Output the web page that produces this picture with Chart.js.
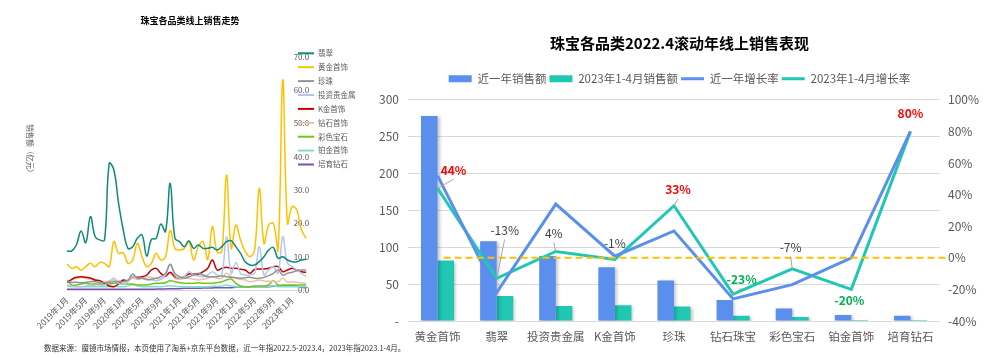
<!DOCTYPE html>
<html><head><meta charset="utf-8">
<script src="https://cdn.jsdelivr.net/npm/chart.js@4/dist/chart.umd.min.js"></script>
<style>
html,body{margin:0;padding:0;background:#fff;width:1000px;height:357px;overflow:hidden;position:relative;}
#c1{position:absolute;left:0;top:0;width:360px;height:357px;}
#c2{position:absolute;left:350px;top:0;width:650px;height:357px;}
#foot{position:absolute;left:44px;top:342px;font-size:7.5px;line-height:11px;font-family:"Noto Sans CJK SC",sans-serif;color:#333;white-space:nowrap;z-index:5;}
</style></head><body>
<canvas id="c1" width="360" height="357"></canvas>
<canvas id="c2" width="650" height="357"></canvas>
<div id="foot">数据来源：魔镜市场情报，本页使用了淘系+京东平台数据，近一年指2022.5-2023.4，2023年指2023.1-4月。</div>
<script>
// ---------- Left chart data ----------
const months = ['2019年1月','2019年2月','2019年3月','2019年4月','2019年5月','2019年6月','2019年7月','2019年8月','2019年9月','2019年10月','2019年11月','2019年12月',
 '2020年1月','2020年2月','2020年3月','2020年4月','2020年5月','2020年6月','2020年7月','2020年8月','2020年9月','2020年10月','2020年11月','2020年12月',
 '2021年1月','2021年2月','2021年3月','2021年4月','2021年5月','2021年6月','2021年7月','2021年8月','2021年9月','2021年10月','2021年11月','2021年12月',
 '2022年1月','2022年2月','2022年3月','2022年4月','2022年5月','2022年6月','2022年7月','2022年8月','2022年9月','2022年10月','2022年11月','2022年12月',
 '2023年1月','2023年2月','2023年3月','2023年4月'];
const jade = [11.7,11.7,13.5,17.7,14.2,22,16,15,15,38,36,26,18,12.5,13,15.5,16.5,10.2,15.2,15.5,19.8,17.5,32,15.5,14.5,13,14.8,12.5,13.5,12.5,12.5,12.8,12,13,14.5,14.8,13,11,8.5,7.5,7.5,8.5,10,12,12.8,9.5,10,9,8.5,8.5,9,9.2];
const goldJewelry = [7.8,6.5,7,6,7,8,7,8.3,8,7,14.6,11,11.2,8,9,14,10,7,8,11,9,10,17.8,12.5,12,12.5,14.5,9,13,14.5,9.2,19,11.5,11.5,34.5,12.5,19.5,15,11.5,10,12,30.5,14,19.5,20,12,63,20,25,24,18,15.5];
const pearl = [2.5,2.3,2.3,2.2,2.3,2.5,2.5,2.3,2.2,2.3,2.5,2.5,2.5,3,4.8,3.5,3.5,3.2,3.2,3.5,4,5,7.7,5,4,3.5,4,4.5,5,4.5,4,4,4,4.2,4,3.8,3.7,3.5,3.7,3.8,3.5,3.5,3.8,4.3,5,6,4.5,5,5.3,5.8,6,6];
const investMetal = [1.5,1.2,1,1,1.2,1.5,1.2,1.2,1.5,2.5,3.5,2,1.8,2.5,4,3.5,3.5,3,3,2.8,3.2,4.5,7.5,4.5,3.5,4,5.5,4.5,4.2,4,4.5,5.5,4.5,4.5,16,5,8.2,5,4.5,4.5,5,13,4.5,6,7,5,16,8,7,6,5,4];
const kGold = [2.2,3.2,3.8,4,3.8,3.6,3,2.8,2,1.2,1,1.8,3,2.8,4,3.8,4,4.5,6,6.5,5,4.2,5.3,4,3.5,4,4.8,4.8,4.8,5.5,6.5,9,6,6.5,6.8,6.5,6.5,6.2,6,5,6.2,6.3,6.3,6.5,7,7,5.5,6,6.5,6,5.5,5.3];
const diamond = [2.5,3,3.5,3.8,3.5,3.2,3,2.8,2.5,2.8,3,2.8,2.5,2.8,3.5,3.2,3.5,4,3.8,3.5,3.3,4,5,3.5,3.2,3.5,3.5,3.2,3,3.2,3.5,4,3.5,3.5,5,4,3.5,3.2,3,2.5,2.7,3,2.7,2.6,2.6,2.5,3.5,2.4,2.5,2.3,2.1,2];
const colorGem = [3,1.5,1.5,1.8,2,1.8,1.8,1.8,1.8,1.8,2,2,1.8,1.8,1.8,1.5,1.5,1.5,1.8,2,2,2.2,2.8,2.5,2.2,2,2,2,2.2,2,2,2,2.2,2.5,3,3.3,2,1.2,1,1,1.2,1.2,1.2,1.5,2.8,1.5,1.5,1.5,1.5,1.5,1.5,1.5];
const platinum = [1.2,1,1,1,1,1,1,1,1,1,1.1,1,1,1.2,1.6,1.3,1,1,1,1,1,1.1,1.3,1.1,1,1,1,1,1,1,1,1.1,1.1,1.2,1.5,1.2,1,0.9,0.9,0.9,0.9,1,1,1.1,1.3,1,1,1,1,1,1,1];
const labDiamond = [0.2,0.2,0.2,0.2,0.2,0.2,0.2,0.2,0.2,0.2,0.2,0.2,0.2,0.2,0.2,0.2,0.2,0.2,0.2,0.3,0.3,0.3,0.4,0.4,0.4,0.5,0.5,0.5,0.5,0.6,0.6,0.6,0.7,0.7,0.7,0.7,0.8,0.8,0.8,0.9,0.9,1,1,1,1.1,1.1,1.2,1.2,1.2,1.1,0.8,0.6];
const leftSeriesNames = ['翡翠','黄金首饰','珍珠','投资贵金属','K金首饰','钻石首饰','彩色宝石','铂金首饰','培育钻石'];
const leftSeries = [jade,goldJewelry,pearl,investMetal,kGold,diamond,colorGem,platinum,labDiamond];
const leftColors = ['#0F8A78','#FFC000','#939393','#B4C7E7','#C00000','#E9C3AC','#72C41E','#7FDFD0','#7B4FB8'];
const leftYTicks = [0,10,20,30,40,50,60,70];

// ---------- Right chart data ----------
const categories = ['黄金首饰','翡翠','投资贵金属','K金首饰','珍珠','钻石珠宝','彩色宝石','铂金首饰','培育钻石'];
const salesLastYear = [278,108,88,73,55,28.5,17,8,7.2];
const sales2023 = [82,34,20.5,21.5,19.5,7,5.5,1.5,1.2];
const growthLastYear = [52,-22,34,1,17,-26,-17,0,80];
const growth2023 = [44,-13,4,-1,33,-23,-7,-20,80];
const leftAxisTicks = [0,50,100,150,200,250,300];
const rightAxisTicks = [-40,-20,0,20,40,60,80,100];

const FONT = '"Noto Sans CJK SC","Noto Sans",sans-serif';
Chart.defaults.font.family = FONT;
Chart.defaults.color = '#595959';

// ---------- Left chart ----------
const leftLegend = {
  id:'leftLegend',
  afterDraw(chart){
    const ctx = chart.ctx; ctx.save();
    ctx.font = '7.5px ' + FONT; ctx.textBaseline = 'middle'; ctx.textAlign='left'; ctx.fillStyle = '#595959';
    chart.data.datasets.forEach((ds,i)=>{
      const y = 53.3 + i*13.9;
      ctx.strokeStyle = ds.borderColor; ctx.lineWidth = 2;
      ctx.beginPath(); ctx.moveTo(298,y); ctx.lineTo(314,y); ctx.stroke();
      ctx.fillText(ds.label, 318, y);
    });
    // y-axis title
    ctx.translate(30,150.5); ctx.rotate(Math.PI/2);
    ctx.textAlign='center'; ctx.font='7.5px '+FONT;
    ctx.fillText('销售额（亿元）',0,0);
    ctx.restore();
  }
};

new Chart(document.getElementById('c1'), {
  type:'line',
  data:{ labels: months, datasets: leftSeries.map((d,i)=>({label:leftSeriesNames[i], data:d, borderColor:leftColors[i], backgroundColor:leftColors[i], borderWidth:1.5, pointRadius:0, tension:0.4, fill:false})) },
  options:{
    responsive:false, animation:false, devicePixelRatio:1,
    layout:{padding:{left:20,right:0,top:0,bottom:0}},
    plugins:{
      legend:{display:false}, tooltip:{enabled:false},
      title:{display:true, text:'珠宝各品类线上销售走势', color:'#000', font:{size:9, weight:'bold'}, padding:{top:15.3,bottom:30.6}}
    },
    scales:{
      x:{ grid:{display:false, drawTicks:false}, border:{display:true,color:'#D9D9D9'},
          ticks:{autoSkip:false, minRotation:45, maxRotation:45, padding:5, font:{size:8.5}, color:'#595959',
                 callback:(v,i)=> i%4===0 ? months[i] : ''},
          afterFit(s){ s.height = 67; } },
      yDummy:{ type:'linear', position:'left', display:true, grid:{display:false}, border:{display:false}, ticks:{display:false}, afterFit(s){ s.width = 47; } },
      y:{ position:'right', min:0, max:70, grid:{display:false}, border:{display:false},
          afterBuildTicks(s){ s.ticks = leftYTicks.map(v=>({value:v})); },
          ticks:{ mirror:true, padding:3, font:{size:8}, color:'#595959', callback:v=>Number(v).toFixed(1) },
          afterFit(s){ s.width = 53.8; } }
    }
  },
  plugins:[leftLegend]
});

// ---------- Right chart ----------
const BLUE = '#5B8FEE', TEAL = '#20C8B4';
const labelOffsets = [[16,-18,1],[8,-48,1],[-2,-18,1],[0,-16,0],[4,-16,1],[8.5,-15,1],[-1.6,-21,1],[-2,11,0],[0,-18,0]];

const barShadow = {
  id:'barShadow',
  beforeDatasetDraw(chart,args){
    const ds = chart.data.datasets[args.index];
    chart.ctx.save();
    if (ds.type==='bar'){ chart.ctx.shadowColor='rgba(0,0,0,0.22)'; chart.ctx.shadowBlur=3; chart.ctx.shadowOffsetX=2; chart.ctx.shadowOffsetY=1; }
  },
  afterDatasetDraw(chart){ chart.ctx.restore(); }
};

const legendPad = {
  id:'legendPad',
  beforeInit(chart){
    const lg = chart.legend;
    if (lg){ const f = lg.fit.bind(lg); lg.fit = function(){ f(); this.height += 5.3; }; }
  }
};

const refAndLabels = {
  id:'refAndLabels',
  afterDatasetsDraw(chart){
    const ctx = chart.ctx, x = chart.scales.x, y1 = chart.scales.y1, ca = chart.chartArea;
    ctx.save();
    const yz = y1.getPixelForValue(0);
    ctx.strokeStyle = '#FFC000'; ctx.lineWidth = 2; ctx.setLineDash([7,4]);
    ctx.beginPath(); ctx.moveTo(x.getPixelForValue(0)+6, yz); ctx.lineTo(ca.right+7, yz); ctx.stroke();
    ctx.setLineDash([]);
    const meta = chart.getDatasetMeta(1);
    ctx.textAlign='center'; ctx.textBaseline='middle';
    meta.data.forEach((pt,i)=>{
      const v = growth2023[i];
      const [dx,dy,lead] = labelOffsets[i];
      const cx = pt.x+dx, cy = pt.y+dy;
      if (lead){
        ctx.strokeStyle='#A6A6A6'; ctx.lineWidth=1;
        ctx.beginPath(); ctx.moveTo(cx, cy+9); ctx.lineTo(pt.x, pt.y); ctx.stroke();
      }
      let color = '#404040', weight = 'normal';
      if (v >= 30){ color='#FF0000'; weight='bold'; }
      else if (v <= -20){ color='#00B050'; weight='bold'; }
      ctx.font = weight + ' 12px ' + FONT; ctx.fillStyle = color;
      ctx.fillText(v + '%', cx, cy);
    });
    ctx.restore();
  }
};

const legendRank = [2,3,0,1];
new Chart(document.getElementById('c2'), {
  data:{
    labels: categories,
    datasets:[
      {type:'line', label:'近一年增长率', data:growthLastYear, yAxisID:'y1', borderColor:BLUE, backgroundColor:BLUE, borderWidth:3, pointRadius:0, pointBorderWidth:3, tension:0},
      {type:'line', label:'2023年1-4月增长率', data:growth2023, yAxisID:'y1', borderColor:TEAL, backgroundColor:TEAL, borderWidth:3, pointRadius:0, pointBorderWidth:3, tension:0},
      {type:'bar', label:'近一年销售额', data:salesLastYear, yAxisID:'y', backgroundColor:BLUE, borderWidth:0, categoryPercentage:0.56, barPercentage:1},
      {type:'bar', label:'2023年1-4月销售额', data:sales2023, yAxisID:'y', backgroundColor:TEAL, borderWidth:0, categoryPercentage:0.56, barPercentage:1}
    ]
  },
  options:{
    responsive:false, animation:false, devicePixelRatio:1,
    layout:{padding:{left:9,right:0,top:0,bottom:0}},
    plugins:{
      tooltip:{enabled:false},
      title:{display:true, text:'珠宝各品类2022.4滚动年线上销售表现', color:'#000', font:{size:15, weight:'bold'}, padding:{top:34,bottom:18}},
      legend:{display:true, position:'top',
        labels:{usePointStyle:true, pointStyleWidth:23, boxHeight:7, padding:3, color:'#595959', font:{size:11.5},
          sort:(a,b)=>legendRank[a.datasetIndex]-legendRank[b.datasetIndex],
          generateLabels(chart){
            const items = Chart.defaults.plugins.legend.labels.generateLabels(chart);
            items.forEach(it=>{
              const ds = chart.data.datasets[it.datasetIndex];
              if (ds.type==='line'){ it.pointStyle='line'; it.lineWidth=3; it.strokeStyle=ds.borderColor; it.fillStyle=ds.borderColor; }
              else { it.pointStyle='rect'; it.lineWidth=0; it.fillStyle=ds.backgroundColor; it.strokeStyle=ds.backgroundColor; }
            });
            return items;
          }
        }
      }
    },
    scales:{
      x:{ grid:{display:false, drawTicks:false}, border:{display:false},
          ticks:{padding:9, autoSkip:false, maxRotation:0, minRotation:0, font:{size:11.5}, color:'#595959'},
          afterFit(s){ s.height = 36; } },
      y:{ position:'left', min:0, max:300,
          afterBuildTicks(s){ s.ticks = leftAxisTicks.map(v=>({value:v})); },
          grid:{color:'#D9D9D9', lineWidth:1, drawTicks:false}, border:{display:false},
          ticks:{padding:9, font:{size:12}, color:'#595959', callback:v=> v===0 ? '-' : v},
          afterFit(s){ s.width = 49; } },
      y1:{ position:'right', min:-40, max:100,
          afterBuildTicks(s){ s.ticks = rightAxisTicks.map(v=>({value:v})); },
          grid:{display:false, drawTicks:false}, border:{display:false},
          ticks:{padding:8, font:{size:12}, color:'#595959', callback:v=> v+'%'},
          afterFit(s){ s.width = 60; } }
    }
  },
  plugins:[legendPad, barShadow, refAndLabels]
});
</script>
</body></html>
